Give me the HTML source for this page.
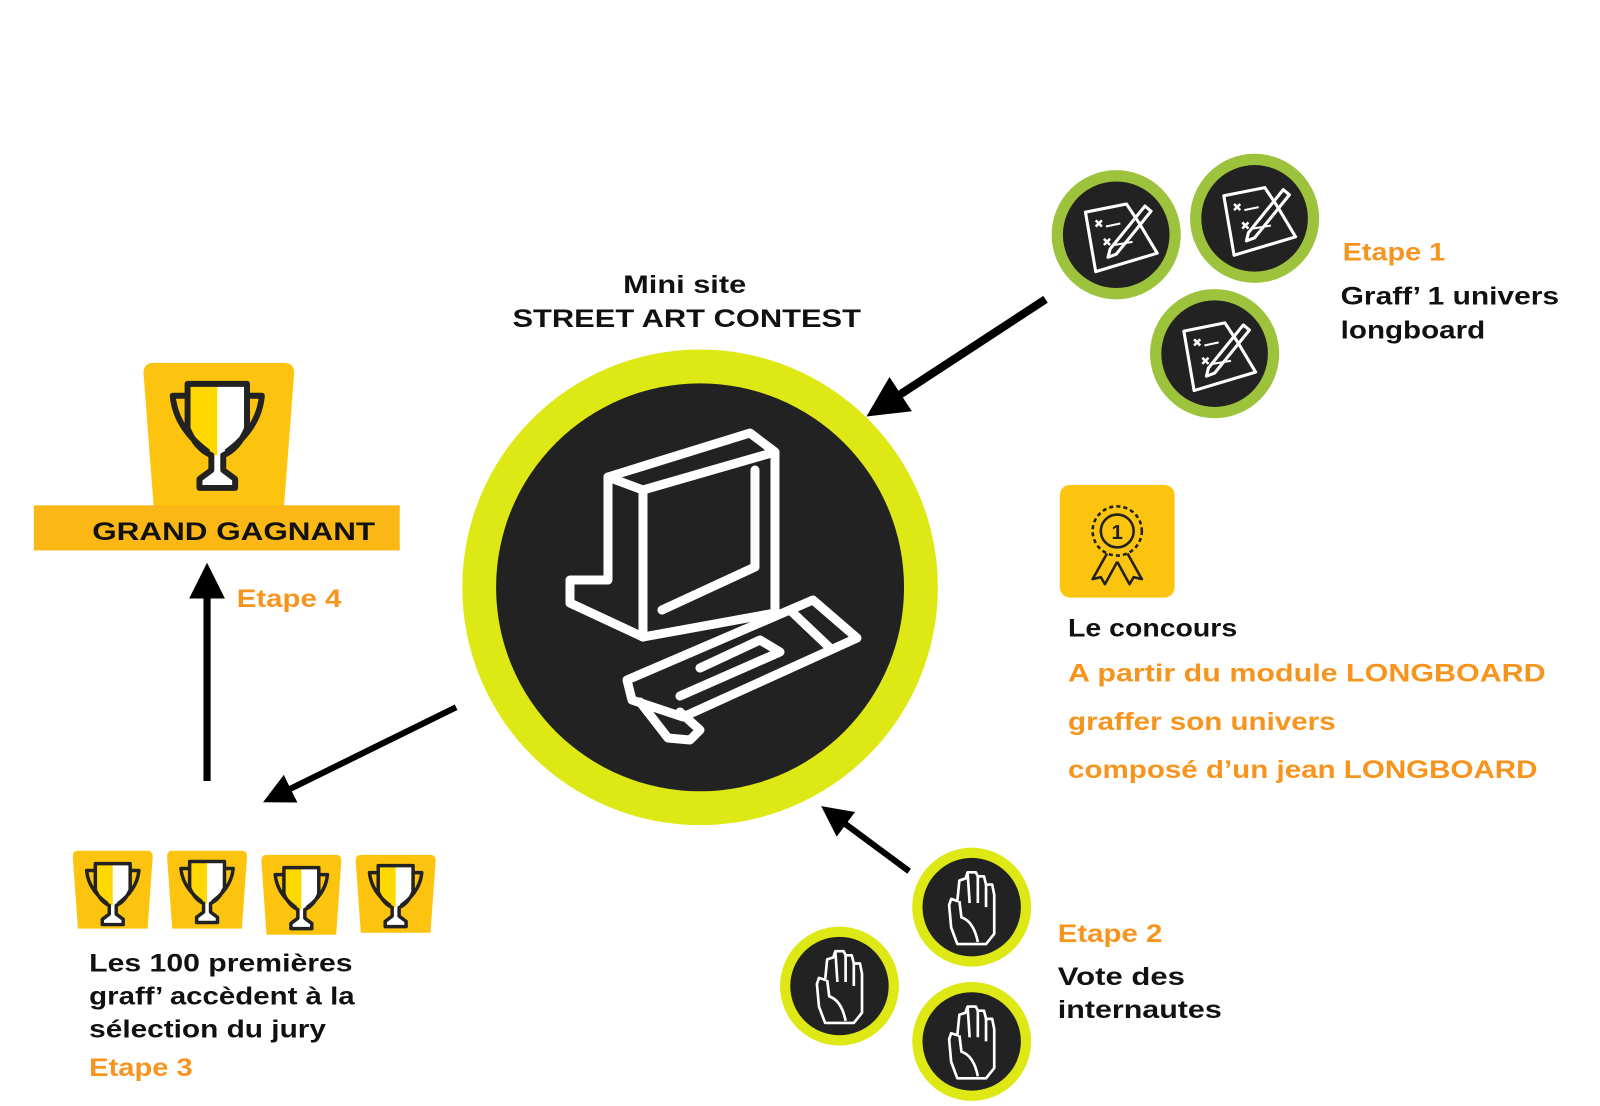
<!DOCTYPE html>
<html><head><meta charset="utf-8"><style>
html,body{margin:0;padding:0;background:#fff;width:1600px;height:1106px;overflow:hidden}
svg{display:block}
text{font-family:"Liberation Sans",sans-serif;font-weight:bold}
</style></head><body>
<svg width="1600" height="1106" viewBox="0 0 1561 1079" xmlns="http://www.w3.org/2000/svg">
<defs>
<g id="pen">
 <circle r="63" fill="#9cc33b"/><circle r="52" fill="#222"/>
 <g fill="none" stroke="#fff" stroke-width="3" stroke-linejoin="round">
  <path d="M-30,-22 L10,-30 L22,-12 L40,18 L-20,36 Z"/>
  <path d="M-6,14 L28,-28 L34,-23 L0,19 L-8,22 Z"/>
  <path d="M-20,-14 l6,6 M-14,-14 l-6,6 M-12,4 l6,6 M-6,4 l-6,6" stroke-width="2.5"/>
  <path d="M-10,-8 l14,-3 M-2,10 l18,-3" stroke-width="2"/>
 </g>
</g>
<g id="hand">
 <circle r="58" fill="#dde815"/><circle r="48" fill="#222"/>
 <path d="M-14,36 L-20,20 L-22,-2 L-20,-8 L-14,-6 L-12,-26 L-6,-28 L-4,-34 L4,-34 L6,-30 L12,-30 L14,-22 L20,-22 L22,-12 L22,26 L14,36 Z M-12,-6 L-10,10 Q2,14 6,34" fill="none" stroke="#fff" stroke-width="2.6" stroke-linejoin="round"/>
 <path d="M-4,-34 L-2,-4 M6,-30 L6,-4 M14,-22 L14,0" fill="none" stroke="#fff" stroke-width="2.6"/>
</g>
<g id="cup">
 <path d="M-20,-30 L20,-30 L20,0 Q14,14 4,18 L4,28 L12,34 L12,40 L-12,40 L-12,34 L-4,28 L-4,18 Q-14,14 -20,0 Z" fill="#fff"/>
 <path d="M-20,-30 L0,-30 L0,18 L-4,18 Q-14,14 -20,0 Z" fill="#ffd800"/>
 <path d="M-20,-30 L20,-30 L20,0 Q14,14 4,18 L4,28 L12,34 L12,40 L-12,40 L-12,34 L-4,28 L-4,18 Q-14,14 -20,0 Z M-20,-22 L-30,-22 Q-28,0 -6,16 M20,-22 L30,-22 Q28,0 6,16" fill="none" stroke="#222" stroke-width="4" stroke-linejoin="round"/>
</g>
<marker id="ah" viewBox="0 0 10 10" refX="8" refY="5" markerWidth="5" markerHeight="5" orient="auto"><path d="M0,0 L10,5 L0,10 Z" fill="#000"/></marker>
</defs>

<g font-size="24">
<text x="608" y="286" textLength="120" lengthAdjust="spacingAndGlyphs" fill="#111">Mini site</text>
<text x="500" y="319" textLength="340" lengthAdjust="spacingAndGlyphs" fill="#111">STREET ART CONTEST</text>
</g>

<circle cx="683" cy="573" r="232" fill="#dde815"/>
<circle cx="683" cy="573" r="199" fill="#222"/>
<g transform="scale(0.9756)" fill="none" stroke="#fff" stroke-width="9" stroke-linejoin="round" stroke-linecap="round">
 <path d="M643,490 L775,452 L775,613 L643,637 Z"/>
 <path d="M643,490 L608,477 L750,433 L775,452"/>
 <path d="M608,477 L608,580 L570,580 L570,603 L643,637"/>
 <path d="M755,470 L755,567 L662,610"/>
 <path d="M627,680 L813,600 L857,638 L683,717 L632,700 Z"/>
 <path d="M790,610 L830,648"/>
 <path d="M680,696 L780,652 L760,640 L700,668"/>
 <path d="M640,702 L668,738 L690,740 L700,730 L680,712"/>
</g>

<g stroke="#000" stroke-width="8" fill="none">
 <line x1="1020" y1="292" x2="852" y2="402" marker-end="url(#ah)"/>
 <line x1="887" y1="850" x2="806" y2="790" stroke-width="6" marker-end="url(#ah)"/>
 <line x1="445" y1="690" x2="262" y2="780" stroke-width="6" marker-end="url(#ah)"/>
 <line x1="202" y1="762" x2="202" y2="556" stroke-width="7" marker-end="url(#ah)"/>
</g>

<use href="#pen" x="1089" y="229"/>
<use href="#pen" x="1224" y="213"/>
<use href="#pen" x="1185" y="345"/>
<g font-size="24" lengthAdjust="spacingAndGlyphs">
<text x="1310" y="254" textLength="100" lengthAdjust="spacingAndGlyphs" fill="#f7941d">Etape 1</text>
<text x="1308" y="297" textLength="213" lengthAdjust="spacingAndGlyphs" fill="#111">Graff’ 1 univers</text>
<text x="1308" y="330" textLength="141" lengthAdjust="spacingAndGlyphs" fill="#111">longboard</text>
</g>

<rect x="1034" y="473" width="112" height="110" rx="10" fill="#fdc40f"/>
<g fill="none" stroke="#222" stroke-width="2.5" stroke-linejoin="round">
 <path d="M1080,540 L1066,565 L1074,563 L1078,570 L1090,548 M1100,540 L1114,565 L1106,563 L1102,570 L1090,548"/>
 <circle cx="1090" cy="518" r="24" stroke-dasharray="4 3"/>
 <circle cx="1090" cy="518" r="16"/>
</g>
<text x="1090" y="526" font-size="20" text-anchor="middle" fill="#222">1</text>
<g font-size="24">
<text x="1042" y="621" textLength="165" lengthAdjust="spacingAndGlyphs" fill="#111">Le concours</text>
<text x="1042" y="665" textLength="466" lengthAdjust="spacingAndGlyphs" fill="#f7941d">A partir du module LONGBOARD</text>
<text x="1042" y="712" textLength="261" lengthAdjust="spacingAndGlyphs" fill="#f7941d">graffer son univers</text>
<text x="1042" y="759" textLength="458" lengthAdjust="spacingAndGlyphs" fill="#f7941d">composé d’un jean LONGBOARD</text>
</g>

<use href="#hand" x="948" y="885"/>
<use href="#hand" x="819" y="962"/>
<use href="#hand" x="948" y="1016"/>
<g font-size="24">
<text x="1032" y="919" textLength="102" lengthAdjust="spacingAndGlyphs" fill="#f7941d">Etape 2</text>
<text x="1032" y="961" textLength="124" lengthAdjust="spacingAndGlyphs" fill="#111">Vote des</text>
<text x="1032" y="993" textLength="160" lengthAdjust="spacingAndGlyphs" fill="#111">internautes</text>
</g>

<path d="M150,354 L277,354 Q287,354 287,364 L277,495 L150,495 L140,364 Q140,354 150,354 Z" fill="#fdc40f"/>
<use href="#cup" transform="translate(212,418) scale(1.45)"/>
<rect x="33" y="493" width="357" height="44" fill="#fbb716"/>
<g font-size="24">
<text x="90" y="527" textLength="276" lengthAdjust="spacingAndGlyphs" fill="#111">GRAND GAGNANT</text>
<text x="231" y="592" textLength="102" lengthAdjust="spacingAndGlyphs" fill="#f7941d">Etape 4</text>
</g>

<g fill="#fdc40f">
 <path d="M76,830 L144,830 Q149,830 149,836 L144,906 L76,906 L71,836 Q71,830 76,830Z"/>
 <path d="M168,830 L236,830 Q241,830 241,836 L236,906 L168,906 L163,836 Q163,830 168,830Z"/>
 <path d="M260,834 L328,834 Q333,834 333,840 L328,912 L260,912 L255,840 Q255,834 260,834Z"/>
 <path d="M352,834 L420,834 Q425,834 425,840 L420,910 L352,910 L347,840 Q347,834 352,834Z"/>
</g>
<use href="#cup" transform="translate(110,868) scale(0.85)"/>
<use href="#cup" transform="translate(202,866) scale(0.85)"/>
<use href="#cup" transform="translate(294,872) scale(0.85)"/>
<use href="#cup" transform="translate(386,870) scale(0.85)"/>
<g font-size="24">
<text x="87" y="948" textLength="257" lengthAdjust="spacingAndGlyphs" fill="#111">Les 100 premières</text>
<text x="87" y="980" textLength="259" lengthAdjust="spacingAndGlyphs" fill="#111">graff’ accèdent à la</text>
<text x="87" y="1012" textLength="231" lengthAdjust="spacingAndGlyphs" fill="#111">sélection du jury</text>
<text x="87" y="1050" textLength="101" lengthAdjust="spacingAndGlyphs" fill="#f7941d">Etape 3</text>
</g>
</svg>
</body></html>
